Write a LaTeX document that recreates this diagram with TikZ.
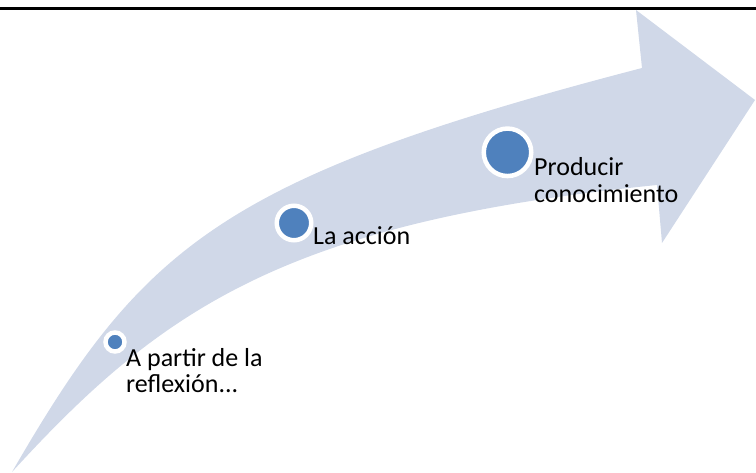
\documentclass[tikz,border=0pt]{standalone}
\usepackage{fontspec}
\setmainfont{Carlito}
\definecolor{bandfill}{RGB}{208,216,232}
\definecolor{dotblue}{RGB}{79,129,189}

\begin{document}
\begin{tikzpicture}[x=1pt,y=-1pt,
        dot/.style={circle,fill=dotblue,draw=white,line width=4.5pt,inner sep=0pt},
        steptext/.style={anchor=base west,align=left,inner sep=0pt,font=\fontsize{26}{27}\selectfont}]
            \useasboundingbox (0,0) rectangle (756,473);
            \draw[line width=2.5pt] (0,8.7) -- (756,8.7);
            % curved arrow
            \fill[bandfill] (12,472) .. controls (142,247.6) and (219,178) .. (642,68)
                -- (636,10) -- (755,100) -- (662,243) -- (657,185)
                .. controls (283.7,222.3) and (159.7,310.6) .. (12,472) -- cycle;
            \node[dot,minimum size=19pt] (d1) at (115,342) {};
            \node[dot,minimum size=34.5pt] (d2) at (294,223) {};
            \node[dot,minimum size=47.5pt] (d3) at (507.5,152.3) {};
            \node[steptext] (t1) at (126,393) {A partir de la\\reflexión...};
            \node[steptext] (t2) at (313,245) {La acción};
            \node[steptext] (t3) at (534,203) {Producir\\conocimiento};
        \end{tikzpicture}
\end{document}
